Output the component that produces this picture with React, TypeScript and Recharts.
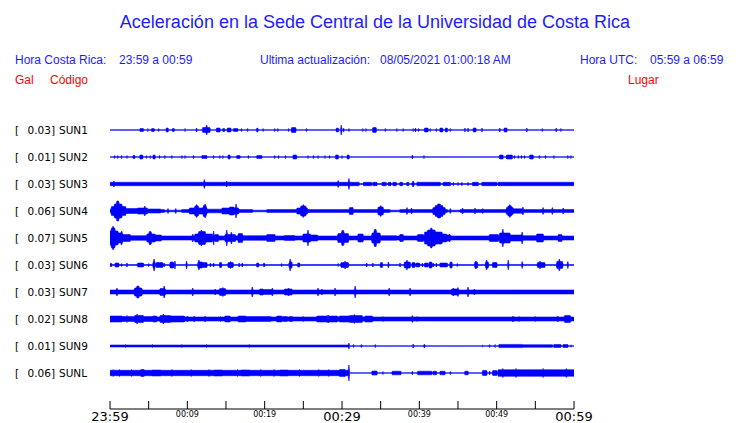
import React from 'react';
import { ComposedChart, Area, XAxis, YAxis } from 'recharts';

// stations, top to bottom
const codes = ['SUN1', 'SUN2', 'SUN3', 'SUN4', 'SUN5', 'SUN6', 'SUN7', 'SUN8', 'SUN9', 'SUNL'];
const places = ['CIMAR', 'Ingenieria P01', 'Ingenieria P06', 'EBCI', 'Rectoria', 'Agroalimentarias', 'Archivo', 'Electrica P06', 'Electrica P01', 'LANAMME-CTT'];
const peakGal = ['0.03', '0.01', '0.03', '0.06', '0.07', '0.03', '0.03', '0.02', '0.01', '0.06'];

// minutes after 23:59 (CR time)
const tickMinutes = [0, 5, 10, 15, 20, 25, 30, 35, 40, 45, 50, 55, 60];
const tickLabels = ['23:59', '', '00:09', '', '00:19', '', '00:29', '', '00:39', '', '00:49', '', '00:59'];
const bigTicks = ['23:59', '00:29', '00:59'];

// background envelope (half amplitude, trace units) for each station
const baseAmp = [0.3, 0.3, 0.5, 0.8, 2, 0.4, 2, 2, 0.3, 0.3];

// envelope events: [start min, end min, half amplitude]
const sun1 = [[3.9,4.3,1.5],[4.9,4.9,1.5],[5.4,5.7,1.5],[6.3,6.3,1.5],[7.3,7.5,2],[8.1,8.3,1.5],[9.7,9.7,1.5],[11.2,11.2,2],[12.0,12.9,2.5],[12.5,12.5,5],[13.8,14.2,2],[14.6,14.8,1.5],[15.2,15.6,2],[16.0,16.5,1.5],[17.0,17.0,1.5],[17.8,17.8,1.5],[19.0,19.1,2],[19.8,19.8,1.5],[21.3,21.3,1.5],[21.7,21.7,1.5],[23.1,23.1,1.5],[23.5,24.0,2.5],[25.4,25.4,1.5],[29.3,29.5,2],[29.9,29.9,5],[30.2,30.2,2],[30.9,30.9,1.5],[32.7,32.7,1.5],[33.1,33.1,1.5],[34.0,34.4,2.5],[35.6,35.6,1.5],[37.1,37.1,1.5],[37.9,37.9,1.5],[39.2,39.2,1.5],[39.5,39.5,2],[39.9,39.9,1.5],[40.7,41.1,2],[41.4,41.4,1.5],[42.2,42.2,1.5],[42.7,43.0,2],[43.4,43.6,2],[44.0,44.0,1.5],[45.9,45.9,2],[46.3,46.3,2],[47.0,47.3,2],[48.1,48.1,2],[50.4,50.4,2],[51.0,51.3,2],[53.9,53.9,2],[55.9,55.9,1.5],[57.7,57.7,2],[58.3,58.3,1.5]];
const sun2 = [[0.6,0.6,1.5],[1.0,1.0,1.5],[1.5,1.5,1.5],[2.2,2.2,1.5],[3.0,3.2,1.5],[3.9,4.2,2],[4.7,4.7,1.5],[5.2,5.2,1.5],[5.6,5.8,2],[6.4,6.4,1.5],[7.1,7.1,1.5],[8.0,8.0,1.5],[9.3,9.3,1.5],[9.7,9.7,1.5],[10.8,10.8,1.5],[11.9,12.5,1.5],[13.4,13.4,1.5],[14.2,14.2,1.5],[14.6,14.6,1.5],[15.3,15.5,2],[16.4,16.8,1.5],[17.9,17.9,1.5],[19.0,19.6,1.5],[21.3,21.3,1.5],[21.8,21.8,1.5],[22.7,22.7,1.5],[23.7,24.1,2],[25.6,25.6,1.5],[26.3,26.3,1.5],[26.9,26.9,1.5],[27.8,27.8,1.5],[28.4,28.4,1.5],[29.2,29.5,2],[30.0,30.0,1.5],[30.7,30.9,2],[39.1,39.1,2],[40.6,40.6,1.5],[50.4,50.8,2],[51.3,52.0,2],[52.3,52.3,1.5],[52.8,52.8,1.5],[53.2,53.2,1.5],[53.6,53.6,1.5],[54.3,54.7,2],[55.5,55.5,1.5],[56.3,56.3,1.5],[57.4,57.4,1.5],[59.2,59.2,1.5],[59.6,59.6,1.5]];
const sun3 = [[0,32.2,1.7],[0.5,0.5,3],[12.2,12.2,4.5],[15.1,15.1,3],[29.5,29.5,3.5],[30.9,30.9,5.5],[32.8,33.8,1.7],[34.0,34.5,1.7],[35.2,35.7,1.7],[36.0,36.3,1.7],[36.6,37.0,1.7],[37.5,37.8,1.7],[38.4,38.6,1.7],[39.1,39.3,1.7],[39.2,39.2,3],[39.7,40.7,1.7],[40.7,42.7,1.7],[43.1,44.0,1.7],[44.4,44.4,1.7],[45.0,45.0,1.7],[45.5,45.5,1.7],[46.3,46.3,1.7],[46.9,47.6,1.7],[48.1,50.0,1.7],[50.2,60,1.7]];
const sun4 = [[0,7.0,1.4],[9.3,18.4,1.4],[20.3,36.2,1.4],[37.5,43.6,1.4],[45.3,60,1.4],[0.2,2.0,4.5],[0.6,1.5,7],[0.9,1.1,10],[2.0,3.5,2.5],[3.6,4.8,3],[4.5,4.5,5],[5.0,6.5,2],[7.5,7.5,2.5],[8.5,8.5,2.5],[10.3,12.5,3],[11.0,11.4,5],[11.2,11.2,6.5],[12.1,12.4,5.5],[12.3,12.3,7],[12.6,14.3,1.8],[14.5,16.6,3],[15.5,16.0,4],[16.3,16.3,7],[24.2,25.5,3],[24.7,25.3,5],[25.0,25.0,6.5],[31.0,31.4,3.5],[34.7,35.3,4],[35.0,35.0,5.5],[38.4,38.4,3.5],[39.0,39.0,3],[41.8,43.3,3.5],[42.1,43.0,5.5],[42.4,42.7,7],[44.0,44.0,2.5],[45.6,45.6,3],[47.2,47.2,3],[48.2,48.2,2.5],[51.3,52.1,3.5],[51.5,51.9,5],[51.7,51.7,6.5],[52.1,53.4,2.2],[53.4,53.4,4],[56.0,56.0,3.5],[57.2,57.2,3.5],[58.6,58.6,3]];
const sun5 = [[0,1.0,7],[0.2,0.6,10],[0.4,0.4,12],[1.0,1.6,5],[1.6,2.6,3.5],[1.5,1.5,7],[2.6,4.8,2.3],[4.8,5.8,4],[5.1,5.3,6.5],[5.8,6.6,3],[10.7,10.7,4],[11.0,13.2,4],[11.5,12.3,6.5],[11.8,11.8,8],[13.4,13.4,7],[13.6,14.0,3.5],[14.9,16.2,3.5],[15.1,15.1,8],[15.7,15.7,6],[16.6,17.1,4.5],[17.1,20.3,2.3],[20.3,21.3,3.5],[22.6,23.9,2.5],[25.0,25.9,4],[25.6,25.6,8],[25.9,26.8,3],[29.5,30.8,4.5],[30.0,30.2,7.5],[32.1,32.7,4],[33.9,34.9,5],[34.2,34.4,8.5],[34.9,37.0,2.3],[37.5,37.9,3.5],[39.8,40.5,3.5],[40.7,42.9,6],[41.1,42.0,8],[41.5,41.6,10],[42.9,43.5,4],[43.5,44.0,3],[43.9,43.9,4],[49.1,50.2,3.5],[50.4,51.7,5],[50.8,50.8,9],[51.7,53.3,3],[53.3,53.3,6],[53.3,55.0,2.3],[55.2,56.0,4],[58.0,58.4,3.5]];
const sun6 = [[0,0.2,1.5],[0.7,1.1,2],[1.5,1.5,1.5],[2.2,2.2,2],[3.6,4.3,2],[5.0,5.0,1.5],[5.6,5.8,3],[5.7,5.7,6],[6.0,6.8,2.5],[7.0,7.0,2],[7.8,8.2,3],[8.4,8.4,4],[9.9,9.9,4],[11.4,11.9,3],[11.5,11.5,5],[12.0,12.5,2.5],[13.0,13.0,2],[13.4,13.4,2],[14.2,14.4,2.5],[15.3,15.9,2.5],[15.6,15.6,3.5],[16.7,16.7,2],[17.1,17.1,2],[19.0,19.2,2],[19.9,19.9,2],[20.0,20.0,1.5],[22.2,22.2,1.5],[23.2,23.5,3],[23.3,23.3,6],[24.3,24.5,2],[29.5,29.5,1.5],[29.9,30.8,2.5],[30.4,30.4,4],[33.2,33.2,2],[34.0,34.0,2],[35.0,35.2,2.5],[36.0,36.0,3],[37.5,37.5,2],[38.1,38.8,3],[38.4,38.4,5],[39.1,39.4,2.5],[39.6,40.0,2],[40.4,40.4,2],[40.7,41.1,2],[41.3,41.6,3],[41.8,41.8,2],[42.2,42.2,2],[42.7,43.6,2],[44.0,44.2,3],[44.9,44.9,1.5],[47.2,47.5,3],[47.3,47.3,4],[48.6,48.9,3],[48.7,48.7,5],[49.5,50.0,2.5],[51.5,51.5,5],[53.3,53.3,3.5],[55.3,56.2,2.5],[55.6,55.6,4],[57.8,58.5,3.5],[58.1,58.1,6],[59.2,59.2,3.5]];
const sun7 = [[0.9,0.9,4],[3.2,4.1,4],[3.5,3.7,6],[6.5,7.1,3.5],[7.0,7.0,6],[10.7,10.7,4],[13.6,13.6,3],[14.2,14.9,3.5],[14.6,14.6,4.5],[18.4,18.4,5],[19.4,19.8,3],[20.0,21.0,2.5],[21.0,21.0,4],[22.6,23.5,3],[23.1,23.1,4],[26.9,26.9,4],[27.4,27.4,3],[29.1,29.1,4],[31.7,31.7,6],[36.1,36.1,4],[38.8,38.8,4],[44.2,45.0,3],[44.4,44.4,4],[45.0,45.0,4.5],[46.3,46.3,5],[47.1,47.1,3]];
const sun8 = [[0,1.5,3],[1.5,3.0,2.5],[2.2,2.2,3.5],[3.2,4.3,3.5],[3.5,3.5,5],[4.4,5.6,2.5],[5.6,6.0,3],[6.5,7.8,3.5],[6.9,6.9,5],[7.8,9.6,3],[10.0,10.0,3],[10.9,10.9,3],[12.3,12.3,3],[14.3,14.3,2.5],[14.9,15.5,3],[16.6,17.5,3],[17.6,20.0,2.5],[20.0,20.8,2.5],[21.6,22.2,3],[22.4,22.9,2.5],[23.2,23.6,2.5],[25.0,25.0,2.5],[26.8,29.4,3],[28.2,28.2,4],[29.7,31.0,3],[31.0,32.6,3.5],[31.6,31.6,4.5],[33.0,33.9,3],[35.3,35.3,2.5],[39.1,39.1,3.5],[39.7,39.7,2.5],[52.1,52.1,3],[52.9,52.9,2.5],[55.0,55.0,2.5],[57.9,57.9,3],[58.8,59.5,3.5]];
const sun9 = [[0,30.8,1],[2.0,2.0,1.5],[5.5,5.5,1.5],[9.3,9.3,1.5],[12.5,12.5,1.5],[18.0,18.0,1.5],[30.9,30.9,3],[31.5,31.5,1.5],[32.5,32.5,1.5],[34.3,34.3,1.5],[39.2,39.2,2],[40.6,40.7,1.5],[48.2,48.2,1],[49.1,49.1,1.5],[49.8,49.8,1.5],[50.3,53.3,1.6],[53.4,57.2,1.3],[57.4,58.3,1.5],[58.6,59.2,1.5],[59.6,59.6,1.3]];
const sunL = [[0,30.8,2.7],[0.4,0.4,3.5],[1.2,1.2,3.5],[2.8,2.8,3.5],[4.0,4.4,3.5],[5.5,6.5,3],[8.0,8.0,3.5],[10.5,10.5,3.5],[12.8,12.8,3.5],[13.5,14.5,3],[16.5,16.5,3.5],[17.0,18.0,3],[19.5,19.5,3.5],[21.2,21.2,3.5],[22.0,23.0,3],[24.5,24.5,3.5],[27.0,27.0,3.5],[28.3,28.3,3.5],[29.7,30.4,3.5],[30.9,30.9,8],[33.9,34.5,2],[35.3,35.3,1.5],[36.5,37.6,1.8],[39.1,39.1,1.8],[39.8,40.7,1.8],[40.7,41.6,1.8],[41.8,42.2,1.8],[42.7,43.3,1.8],[44.0,44.0,1.5],[45.9,46.3,1.8],[48.2,48.7,2.5],[49.1,49.1,2],[49.5,50.0,2.5],[50.2,60,3.3],[50.8,50.8,4.5],[52.5,52.5,4.5],[56.0,56.0,4.5],[59.0,59.0,4.5]];
const events = [sun1, sun2, sun3, sun4, sun5, sun6, sun7, sun8, sun9, sunL];

const SPACING = 27;
const TOP = 279;
const centers = codes.map((_, i) => TOP - SPACING * i);

const times = Array.from({ length: 601 }, (_, k) => k / 10);
const envelope = (base: number, ev: number[][]) =>
  times.map((t) => {
    let a = base;
    for (const [s, e, amp] of ev) if (t >= s - 0.04 && t <= e + 0.04) a = Math.max(a, amp);
    return a;
  });
const envs = events.map((ev, i) => envelope(baseAmp[i], ev));

const data = times.map((t, k) => {
  const row: any = { t };
  codes.forEach((c, i) => {
    row[c] = [centers[i] - envs[i][k], centers[i] + envs[i][k]];
  });
  return row;
});

const BLUE = '#0000ff';
const TXT = '#1c1cff';
const RED = '#ff0000';

const LeftTick = ({ y, payload }: any) => {
  const i = centers.indexOf(payload.value);
  if (i < 0) return null;
  return (
    <g fontFamily="DejaVu Sans" fontSize={10.5} fill="#000">
      <text x={15} y={y + 4}>[</text>
      <text x={55} y={y + 4} textAnchor="end">{peakGal[i]}]</text>
      <text x={59} y={y + 4}>{codes[i]}</text>
    </g>
  );
};

const RightTick = ({ y, payload }: any) => {
  const i = centers.indexOf(payload.value);
  if (i < 0) return null;
  return (
    <text x={587} y={y + 4} fontFamily="DejaVu Sans" fontSize={10.5} fill="#000">
      {places[i]}
    </text>
  );
};

const TimeTick = ({ x, y, payload }: any) => {
  const i = tickMinutes.indexOf(payload.value);
  const label = tickLabels[i];
  const big = bigTicks.includes(label);
  return (
    <g>
      <line x1={x} x2={x} y1={y - 8} y2={y} stroke="#000" />
      {label && (
        <text x={x} y={big ? y + 12 : y + 8} textAnchor="middle" fontFamily="DejaVu Sans" fontSize={big ? 13 : 8} fill="#000">
          {label}
        </text>
      )}
    </g>
  );
};

export default function App() {
  return (
    <div style={{ position: 'absolute', left: 0, top: 0, width: 740, height: 423, background: '#fff' }}>
      <ComposedChart width={740} height={423} data={data} margin={{ top: 116, right: 0, bottom: 0, left: 0 }}>
        <XAxis
          dataKey="t"
          type="number"
          domain={[0, 60]}
          ticks={tickMinutes}
          interval={0}
          height={14}
          tickSize={0}
          tickMargin={0}
          tickLine={false}
          axisLine={{ stroke: '#000' }}
          tick={<TimeTick />}
        />
        <YAxis yAxisId="left" type="number" domain={[0, 293]} ticks={centers} interval={0} width={110} axisLine={false} tickLine={false} tickSize={0} tick={<LeftTick />} />
        <YAxis yAxisId="right" orientation="right" type="number" domain={[0, 293]} ticks={centers} interval={0} width={166} axisLine={false} tickLine={false} tickSize={0} tick={<RightTick />} />
        {codes.map((c) => (
          <Area
            key={c}
            yAxisId="left"
            dataKey={c}
            type="linear"
            stroke={BLUE}
            strokeWidth={0.6}
            fill={BLUE}
            fillOpacity={1}
            dot={false}
            activeDot={false}
            isAnimationActive={false}
          />
        ))}
      </ComposedChart>
      <svg width={740} height={423} style={{ position: 'absolute', left: 0, top: 0, pointerEvents: 'none' }}>
        <text x={375} y={28} textAnchor="middle" fontFamily="Liberation Sans" fontSize={18} fill={TXT}>
          Aceleración en la Sede Central de la Universidad de Costa Rica
        </text>
        <g fontFamily="Liberation Sans" fontSize={12} fill={TXT}>
          <text x={15} y={64}>Hora Costa Rica:</text>
          <text x={119} y={64}>23:59 a 00:59</text>
          <text x={260} y={64}>Ultima actualización:</text>
          <text x={380} y={64}>08/05/2021 01:00:18 AM</text>
          <text x={580} y={64}>Hora UTC:</text>
          <text x={650} y={64}>05:59 a 06:59</text>
        </g>
        <g fontFamily="Liberation Sans" fontSize={12} fill={RED}>
          <text x={15} y={84}>Gal</text>
          <text x={50} y={84}>Código</text>
          <text x={628} y={84}>Lugar</text>
        </g>
      </svg>
    </div>
  );
}
